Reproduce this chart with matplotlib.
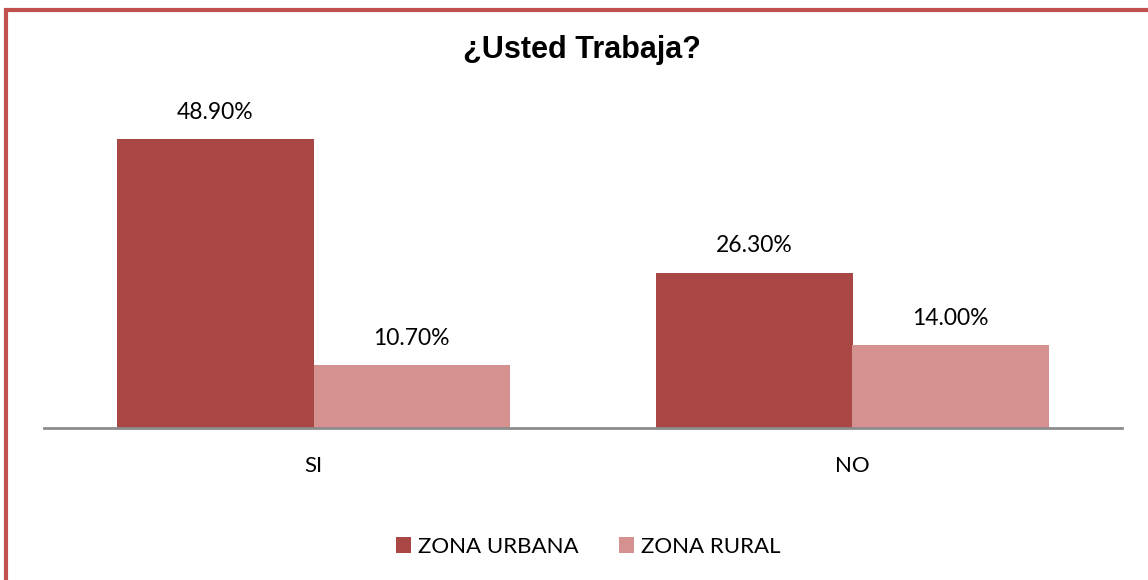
import matplotlib.pyplot as plt
import numpy as np
from matplotlib.patches import Rectangle

# Datos
categorias = ["SI", "NO"]
zona_urbana = [48.9, 26.3]
zona_rural = [10.7, 14.0]
series = ["ZONA URBANA", "ZONA RURAL"]
colores = ["#A94744", "#D4918F"]

fig = plt.figure(figsize=(11.48, 5.8), dpi=100)
ax = fig.add_axes([44 / 1148, 152 / 580, 1078 / 1148, 354.6 / 580])

x = np.arange(len(categorias))
ancho = 0.364
b1 = ax.bar(x - ancho / 2, zona_urbana, ancho, color=colores[0], label=series[0])
b2 = ax.bar(x + ancho / 2, zona_rural, ancho, color=colores[1], label=series[1])

fuente = "Lato"
for barras in (b1, b2):
    for b in barras:
        ax.text(b.get_x() + b.get_width() / 2, b.get_height() + 4.5,
                f"{b.get_height():.2f}%", ha="center", va="center",
                fontsize=16.5, family=fuente, color="black")

ax.set_xlim(-0.5, 1.5)
ax.set_ylim(0, 60)
ax.set_xticks(x)
ax.set_xticklabels(categorias, fontsize=16, family=fuente)
ax.tick_params(axis="x", length=0, pad=20)
ax.set_yticks([])
for lado in ("top", "right", "left"):
    ax.spines[lado].set_visible(False)
ax.spines["bottom"].set_color("#8C8C8C")
ax.spines["bottom"].set_linewidth(2)

fig.text(582 / 1148, 1 - 50 / 580, "¿Usted Trabaja?", ha="center", va="center",
         fontsize=22, fontweight="bold", family="Liberation Sans")

leg = fig.legend(handles=[b1, b2], labels=series, loc="center",
                 bbox_to_anchor=(588 / 1148, 1 - 547 / 580), ncol=2,
                 frameon=False, prop={"family": fuente, "size": 16},
                 handlelength=0.7, handleheight=0.7, handletextpad=0.3,
                 columnspacing=1.8)

# Borde del marco
fig.patches.append(Rectangle((6 / 1148, -0.1), 1.2, 1 - 10 / 580 + 0.1,
                             transform=fig.transFigure, fill=False,
                             edgecolor="#C0504D", linewidth=3))

fig.savefig("out.png", dpi=100)
